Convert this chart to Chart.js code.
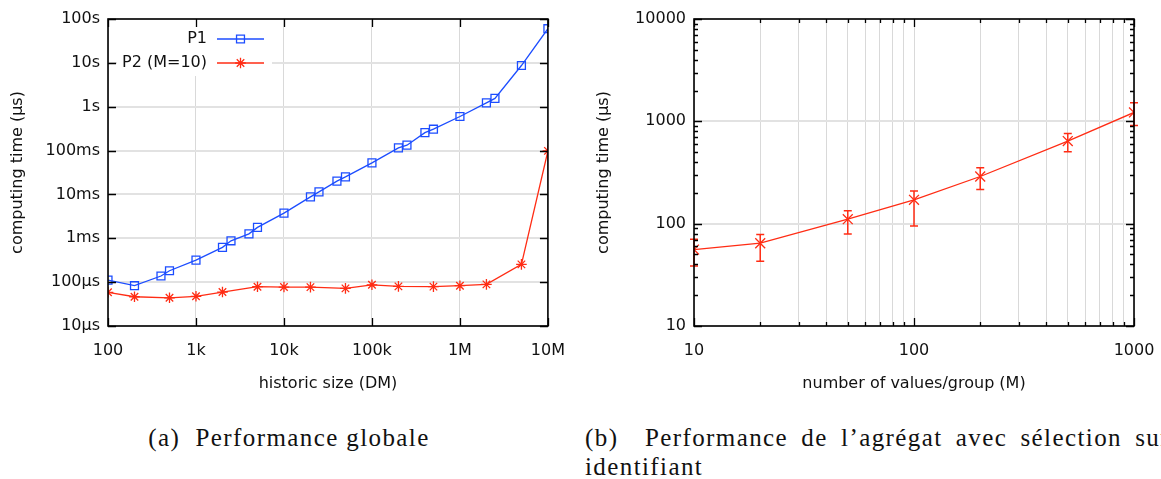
<!DOCTYPE html>
<html>
<head>
<meta charset="utf-8">
<script src="https://cdn.jsdelivr.net/npm/chart.js@4/dist/chart.umd.min.js"></script>
<style>
  html, body { margin: 0; padding: 0; background: #fff; overflow: hidden; }
  body { width: 1161px; height: 479px; position: relative; }
  canvas { position: absolute; top: 0; }
  #c1 { left: 0; }
  #c2 { left: 581px; }
  .cap { position: absolute; font-family: 'Liberation Serif', serif; font-size: 25px; line-height: 29px; color: #111; letter-spacing: 1.4px; }
  #capA { left: 0; width: 578px; top: 423px; text-align: center; }
  #capB { left: 585px; width: 585px; top: 423px; text-align: justify; }
</style>
</head>
<body>
<canvas id="c1" width="580" height="410"></canvas>
<canvas id="c2" width="580" height="410"></canvas>
<div class="cap" id="capA">(a)&nbsp; Performance globale</div>
<div class="cap" id="capB">(b)&nbsp; Performance de l’agrégat avec sélection sur identifiant</div>
<script>
// ---- data: left chart (a) ----
const historicSizesP1 = [100, 200, 400, 500, 1000, 2000, 2500, 4000, 5000, 10000, 20000, 25000, 40000, 50000,
  100000, 200000, 250000, 400000, 500000, 1e6, 2e6, 2.5e6, 5e6, 1e7];
const timeP1 = [111, 83, 138, 182, 318, 621, 877, 1260, 1770, 3750, 8810, 11460, 20090, 25100,
  52500, 115000, 132800, 257000, 307000, 598000, 1.22e6, 1.55e6, 8.7e6, 6.0e7];
const historicSizesP2 = [100, 200, 500, 1000, 2000, 5000, 10000, 20000, 50000, 100000, 200000, 500000,
  1e6, 2e6, 5e6, 1e7];
const timeP2 = [58.6, 46.5, 44, 47.5, 59.5, 78.7, 77.3, 77, 72, 87, 80, 79, 83, 89, 254, 98400];

const xTicksA = [100, 1e3, 1e4, 1e5, 1e6, 1e7];
const xLabelsA = ['100', '1k', '10k', '100k', '1M', '10M'];
const yTicksA = [10, 100, 1e3, 1e4, 1e5, 1e6, 1e7, 1e8];
const yLabelsA = ['10µs', '100µs', '1ms', '10ms', '100ms', '1s', '10s', '100s'];

// ---- data: right chart (b) ----
const groupSizes = [10, 20, 50, 100, 200, 500, 1000];
const aggTime = [55.8, 64.4, 110.6, 171, 289, 641, 1222];
const aggLow = [38.6, 43, 79.4, 95, 215.7, 504, 912];
const aggHigh = [70.5, 78.2, 134, 209, 351.6, 762, 1521];

const xTicksB = [10, 100, 1000];
const xMinorB = [20, 30, 40, 50, 60, 70, 80, 90, 200, 300, 400, 500, 600, 700, 800, 900];
const yTicksB = [10, 100, 1000, 10000];
const yMinorB = [20, 30, 40, 50, 60, 70, 80, 90, 200, 300, 400, 500, 600, 700, 800, 900,
  2000, 3000, 4000, 5000, 6000, 7000, 8000, 9000];

const BLUE = '#1c4dff';
const RED = '#ff2c14';

Chart.defaults.font.family = 'DejaVu Sans';
Chart.defaults.font.size = 16;
Chart.defaults.color = '#111';

const toPoints = (xs, ys) => xs.map((x, i) => ({ x, y: ys[i] }));

// box round the plot with inward ticks on all four sides
const makeFrame = (xMajor, xMinor, yMajor, yMinor) => ({
  id: 'frame',
  afterDraw(chart) {
    const { ctx, chartArea: a, scales } = chart;
    ctx.save();
    ctx.strokeStyle = '#000';
    ctx.lineWidth = 1.3;
    const tick = (vals, len, horiz) => {
      vals.forEach((v) => {
        ctx.beginPath();
        if (horiz) {
          const x = Math.round(scales.x.getPixelForValue(v)) + 0.5;
          ctx.moveTo(x, a.bottom); ctx.lineTo(x, a.bottom - len);
          ctx.moveTo(x, a.top); ctx.lineTo(x, a.top + len);
        } else {
          const y = Math.round(scales.y.getPixelForValue(v)) + 0.5;
          ctx.moveTo(a.left, y); ctx.lineTo(a.left + len, y);
          ctx.moveTo(a.right, y); ctx.lineTo(a.right - len, y);
        }
        ctx.stroke();
      });
    };
    tick(xMajor, 8, true);
    tick(xMinor, 4, true);
    tick(yMajor, 8, false);
    tick(yMinor, 4, false);
    ctx.lineWidth = 1.6;
    ctx.strokeRect(a.left, a.top, a.right - a.left, a.bottom - a.top);
    ctx.restore();
  },
});

// gnuplot-like key: text right-aligned, then line sample with marker
const keyPlugin = {
  id: 'key',
  beforeDatasetsDraw(chart) {
    const { ctx, chartArea: a } = chart;
    ctx.save();
    ctx.fillStyle = '#fff';
    ctx.fillRect(a.left + 9, a.top + 1, 155, 56);
    ctx.restore();
  },
  afterDatasetsDraw(chart) {
    const { ctx, chartArea: a } = chart;
    ctx.save();
    chart.data.datasets.forEach((ds, i) => {
      const y = a.top + 20 + 24 * i;
      ctx.font = '16px "DejaVu Sans"';
      ctx.fillStyle = '#111';
      ctx.textAlign = 'right';
      ctx.textBaseline = 'middle';
      ctx.fillText(ds.label, a.left + 99, y);
      ctx.strokeStyle = ds.borderColor;
      ctx.lineWidth = ds.borderWidth;
      ctx.beginPath();
      ctx.moveTo(a.left + 109, y);
      ctx.lineTo(a.left + 156, y);
      ctx.stroke();
      ctx.fillStyle = 'rgba(0,0,0,0)';
      ctx.lineWidth = 1.3;
      Chart.helpers.drawPoint(ctx, { pointStyle: ds.pointStyle, radius: ds.pointRadius, borderWidth: 1.3, rotation: 0 }, a.left + 132.5, y);
    });
    ctx.restore();
  },
};

const errorBars = {
  id: 'errorBars',
  afterDatasetsDraw(chart) {
    const { ctx, scales } = chart;
    ctx.save();
    ctx.strokeStyle = RED;
    ctx.lineWidth = 1.5;
    groupSizes.forEach((m, i) => {
      const x = scales.x.getPixelForValue(m);
      const yl = scales.y.getPixelForValue(aggLow[i]);
      const yh = scales.y.getPixelForValue(aggHigh[i]);
      ctx.beginPath();
      ctx.moveTo(x, yl); ctx.lineTo(x, yh);
      ctx.moveTo(x - 4, yl); ctx.lineTo(x + 4, yl);
      ctx.moveTo(x - 4, yh); ctx.lineTo(x + 4, yh);
      ctx.stroke();
    });
    ctx.restore();
  },
};

const logAxis = (min, max, ticks, labels, pad, extra) => ({
  type: 'logarithmic',
  min,
  max,
  afterBuildTicks: (scale) => { scale.ticks = ticks.map((v) => ({ value: v })); },
  ticks: {
    autoSkip: false,
    maxRotation: 0,
    padding: pad,
    callback: (v) => { const k = ticks.indexOf(v); return k >= 0 && labels[k] ? labels[k] : ''; },
  },
  border: { display: false },
  ...extra,
});

new Chart(document.getElementById('c1'), {
  type: 'scatter',
  data: {
    datasets: [
      {
        label: 'P1',
        data: toPoints(historicSizesP1, timeP1),
        showLine: true,
        borderColor: BLUE,
        backgroundColor: 'rgba(0,0,0,0)',
        borderWidth: 1.3,
        pointStyle: 'rect',
        pointRadius: 5.6,
        pointBorderWidth: 1.3,
      },
      {
        label: 'P2 (M=10)',
        data: toPoints(historicSizesP2, timeP2),
        showLine: true,
        borderColor: RED,
        backgroundColor: RED,
        borderWidth: 1.3,
        pointStyle: 'star',
        pointRadius: 5.3,
        pointBorderWidth: 1.3,
      },
    ],
  },
  options: {
    responsive: false,
    animation: false,
    events: [],
    layout: { padding: { top: 19, right: 31, left: 0, bottom: 0 } },
    plugins: { legend: { display: false }, tooltip: { enabled: false } },
    scales: {
      x: logAxis(100, 1e7, xTicksA, xLabelsA, 15, {
        afterFit: (s) => { s.height = 84; },
        grid: { color: '#d9d9d9', lineWidth: 1, drawTicks: false },
        title: { display: true, text: 'historic size (DM)', padding: { top: 0, bottom: 17 } },
      }),
      y: logAxis(10, 1e8, yTicksA, yLabelsA, 8, {
        afterFit: (s) => { s.width = 108; },
        grid: { color: '#e2e2e2', lineWidth: 2, drawTicks: false },
        title: { display: true, text: 'computing time (µs)', padding: { top: 8, bottom: 0 } },
      }),
    },
  },
  plugins: [keyPlugin, makeFrame(xTicksA, [], yTicksA, [])],
});

new Chart(document.getElementById('c2'), {
  type: 'scatter',
  data: {
    datasets: [
      {
        label: 'agrégat',
        data: toPoints(groupSizes, aggTime),
        showLine: true,
        borderColor: RED,
        backgroundColor: RED,
        borderWidth: 1.3,
        pointStyle: 'crossRot',
        pointRadius: 7,
        pointBorderWidth: 1.3,
      },
    ],
  },
  options: {
    responsive: false,
    animation: false,
    events: [],
    layout: { padding: { top: 19, right: 27, left: 0, bottom: 0 } },
    plugins: { legend: { display: false }, tooltip: { enabled: false } },
    scales: {
      x: logAxis(10, 1000, xTicksB.concat(xMinorB), xTicksB.map(String), 15, {
        afterFit: (s) => { s.height = 84; },
        grid: { color: '#d9d9d9', lineWidth: 1, drawTicks: false },
        title: { display: true, text: 'number of values/group (M)', padding: { top: 0, bottom: 17 } },
      }),
      y: logAxis(10, 10000, yTicksB, yTicksB.map(String), 8, {
        afterFit: (s) => { s.width = 113; },
        grid: { color: '#e2e2e2', lineWidth: 2, drawTicks: false },
        title: { display: true, text: 'computing time (µs)', padding: { top: 13, bottom: 0 } },
      }),
    },
  },
  plugins: [errorBars, makeFrame(xTicksB, xMinorB, yTicksB, yMinorB)],
});
</script>
</body>
</html>
